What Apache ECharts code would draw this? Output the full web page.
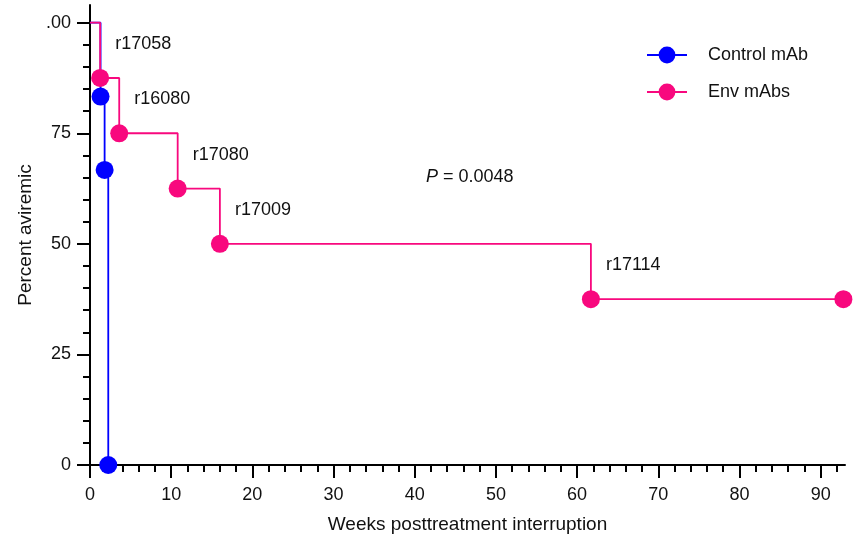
<!DOCTYPE html>
<html><head><meta charset="utf-8">
<script src="https://cdn.jsdelivr.net/npm/echarts@6/dist/echarts.min.js"></script>
<style>html,body{margin:0;padding:0;background:#fff}#c{width:856px;height:539px}</style>
</head><body><div id="c"></div>
<script>
const controlWeeks = [0, 1.3, 1.8, 2.25];
const controlPct = [100, 83.3, 66.7, 0];
const envWeeks = [0, 1.25, 3.6, 10.8, 16.0, 61.7, 92.8];
const envPct = [100, 87.5, 75, 62.5, 50, 37.5, 37.5];
const envNames = ['', 'r17058', 'r16080', 'r17080', 'r17009', 'r17114', ''];
const xTicks = [0, 10, 20, 30, 40, 50, 60, 70, 80, 90];
const xMinorTicks = [2,4,6,8,12,14,16,18,22,24,26,28,32,34,36,38,42,44,46,48,52,54,56,58,62,64,66,68,72,74,76,78,82,84,86,88,92];
const yTicks = [0, 25, 50, 75, 100];
const yTickLabels = ['0', '25', '50', '75', '.00'];
const yMinorTicks = [5,10,15,20,30,35,40,45,55,60,65,70,80,85,90,95];
const pText = '0.0048';

const FONT = "'Liberation Sans', Arial, sans-serif";
const BLUE = '#0000ff';
const PINK = '#f8087e';
const X_MAX = 93, Y_MAX = 104;

function buildData(xs, ys, names) {
  return xs.map((x, i) => {
    const item = { value: [x, ys[i]] };
    if (i === 0) item.symbol = 'none';
    if (names) {
      item.name = names[i];
      item.label = { show: !!names[i] };
    }
    return item;
  });
}

const chart = echarts.init(document.getElementById('c'), null, { renderer: 'canvas' });
const axisLineStyle = { color: '#000', width: 2 };
chart.setOption({
  animation: false,
  textStyle: { fontFamily: FONT },
  grid: { left: 90, right: 11, top: 5, bottom: 74, containLabel: false },
  title: {
    text: '{i|P} = ' + pText,
    left: 421, top: 163,
    textStyle: {
      fontFamily: FONT, fontSize: 18, fontWeight: 'normal', color: '#111',
      rich: { i: { fontStyle: 'italic', fontFamily: FONT, fontSize: 18, color: '#111' } }
    }
  },
  legend: {
    orient: 'vertical', left: 641, top: 41,
    itemWidth: 40, itemHeight: 21, itemGap: 19,
    data: ['Control mAb', 'Env mAbs'],
    textStyle: { fontFamily: FONT, fontSize: 18, color: '#111', padding: [0, 0, 0, 16] }
  },
  xAxis: [{
    type: 'value', min: 0, max: X_MAX, interval: 10,
    name: 'Weeks posttreatment interruption', nameLocation: 'middle', nameGap: 50,
    nameTextStyle: { fontFamily: FONT, fontSize: 19, color: '#111' },
    axisLine: { show: true, onZero: false, lineStyle: axisLineStyle },
    axisTick: { show: true, length: 13, lineStyle: axisLineStyle, customValues: xTicks },
    axisLabel: { fontFamily: FONT, fontSize: 18, color: '#111', margin: 21, customValues: xTicks },
    splitLine: { show: false }
  }, {
    type: 'value', min: 0, max: X_MAX, position: 'bottom',
    axisLine: { show: false },
    axisTick: { show: true, length: 7, lineStyle: axisLineStyle, customValues: xMinorTicks },
    axisLabel: { show: false },
    splitLine: { show: false }
  }],
  yAxis: [{
    type: 'value', min: 0, max: Y_MAX, interval: 25,
    name: 'Percent aviremic', nameLocation: 'middle', nameGap: 51,
    nameTextStyle: { fontFamily: FONT, fontSize: 19, color: '#111' },
    axisLine: { show: true, onZero: false, lineStyle: axisLineStyle },
    axisTick: { show: true, length: 13, lineStyle: axisLineStyle, customValues: yTicks },
    axisLabel: {
      fontFamily: FONT, fontSize: 18, color: '#111', margin: 19, customValues: yTicks,
      formatter: v => yTickLabels[yTicks.indexOf(v)] ?? ''
    },
    splitLine: { show: false }
  }, {
    type: 'value', min: 0, max: Y_MAX, position: 'left',
    axisLine: { show: false },
    axisTick: { show: true, length: 7, lineStyle: axisLineStyle, customValues: yMinorTicks },
    axisLabel: { show: false },
    splitLine: { show: false }
  }],
  series: [{
    name: 'Control mAb', type: 'line', step: 'end',
    xAxisIndex: 0, yAxisIndex: 0,
    symbol: 'circle', symbolSize: 18, showAllSymbol: true,
    lineStyle: { color: BLUE, width: 1.8 },
    itemStyle: { color: BLUE },
    data: buildData(controlWeeks, controlPct, null),
    z: 2
  }, {
    name: 'Env mAbs', type: 'line', step: 'end',
    xAxisIndex: 0, yAxisIndex: 0,
    symbol: 'circle', symbolSize: 18, showAllSymbol: true,
    lineStyle: { color: PINK, width: 1.8 },
    itemStyle: { color: PINK },
    label: {
      show: true, position: 'right', distance: 6, offset: [0, -34],
      formatter: '{b}', fontFamily: FONT, fontSize: 18, color: '#111'
    },
    data: buildData(envWeeks, envPct, envNames),
    z: 3
  }]
});
</script></body></html>
